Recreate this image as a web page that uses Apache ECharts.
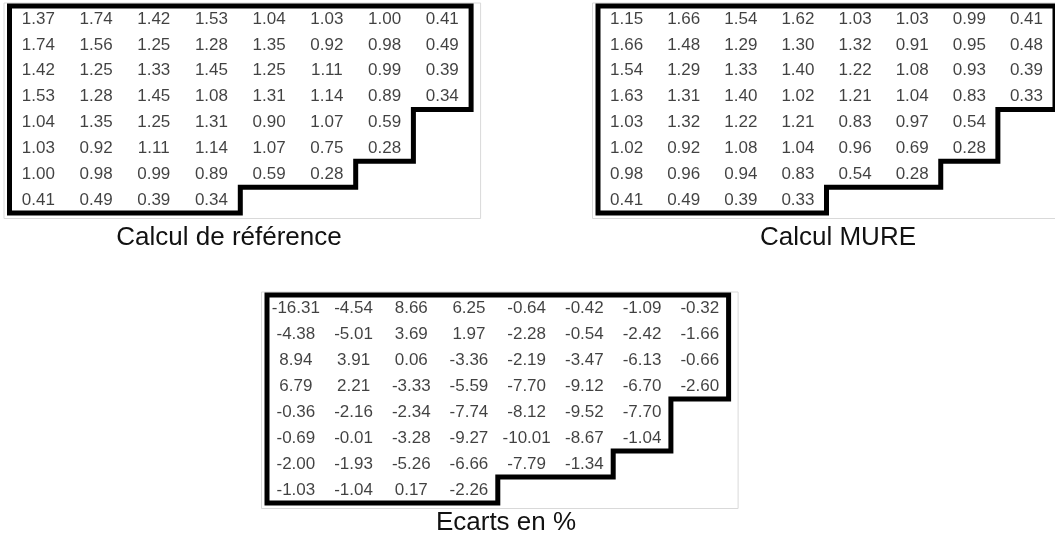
<!DOCTYPE html>
<html>
<head>
<meta charset="utf-8">
<script src="https://cdn.jsdelivr.net/npm/echarts@6/dist/echarts.min.js"></script>
<style>
html,body{margin:0;padding:0;background:#fff;}
#chart{width:1055px;height:547px;}
</style>
</head>
<body>
<div id="chart"></div>
<script>
// ---- data ----
const colCats = ['C1','C2','C3','C4','C5','C6','C7','C8'];
const rowCats = ['L1','L2','L3','L4','L5','L6','L7','L8'];

const refValues = [
  [1.37, 1.74, 1.42, 1.53, 1.04, 1.03, 1.00, 0.41],
  [1.74, 1.56, 1.25, 1.28, 1.35, 0.92, 0.98, 0.49],
  [1.42, 1.25, 1.33, 1.45, 1.25, 1.11, 0.99, 0.39],
  [1.53, 1.28, 1.45, 1.08, 1.31, 1.14, 0.89, 0.34],
  [1.04, 1.35, 1.25, 1.31, 0.90, 1.07, 0.59],
  [1.03, 0.92, 1.11, 1.14, 1.07, 0.75, 0.28],
  [1.00, 0.98, 0.99, 0.89, 0.59, 0.28],
  [0.41, 0.49, 0.39, 0.34]
];
const mureValues = [
  [1.15, 1.66, 1.54, 1.62, 1.03, 1.03, 0.99, 0.41],
  [1.66, 1.48, 1.29, 1.30, 1.32, 0.91, 0.95, 0.48],
  [1.54, 1.29, 1.33, 1.40, 1.22, 1.08, 0.93, 0.39],
  [1.63, 1.31, 1.40, 1.02, 1.21, 1.04, 0.83, 0.33],
  [1.03, 1.32, 1.22, 1.21, 0.83, 0.97, 0.54],
  [1.02, 0.92, 1.08, 1.04, 0.96, 0.69, 0.28],
  [0.98, 0.96, 0.94, 0.83, 0.54, 0.28],
  [0.41, 0.49, 0.39, 0.33]
];
const ecartValues = [
  [-16.31, -4.54, 8.66, 6.25, -0.64, -0.42, -1.09, -0.32],
  [-4.38, -5.01, 3.69, 1.97, -2.28, -0.54, -2.42, -1.66],
  [8.94, 3.91, 0.06, -3.36, -2.19, -3.47, -6.13, -0.66],
  [6.79, 2.21, -3.33, -5.59, -7.70, -9.12, -6.70, -2.60],
  [-0.36, -2.16, -2.34, -7.74, -8.12, -9.52, -7.70],
  [-0.69, -0.01, -3.28, -9.27, -10.01, -8.67, -1.04],
  [-2.00, -1.93, -5.26, -6.66, -7.79, -1.34],
  [-1.03, -1.04, 0.17, -2.26]
];
const tableTitles = ['Calcul de référence', 'Calcul MURE', 'Ecarts en %'];

// ---- helpers ----
const FONT = '"Liberation Sans", Arial, sans-serif';
function toPoints(m) {
  const out = [];
  m.forEach((row, r) => row.forEach((v, c) => out.push([c, r, v])));
  return out;
}
function borderRenderer(m) {
  return function (params, api) {
    const p0 = api.coord([0, 0]);
    const sz = api.size([1, 1]);
    const bw = sz[0], bh = sz[1];
    const left = p0[0] - bw / 2, top = p0[1] - bh / 2;
    const n = m.length;
    const pts = [[left, top]];
    for (let i = 0; i < n; i++) {
      const x = left + m[i].length * bw;
      pts.push([x, top + i * bh]);
      pts.push([x, top + (i + 1) * bh]);
    }
    pts.push([left, top + n * bh]);
    const maxW = m[0].length * bw;
    return {
      type: 'group',
      children: [
        {
          type: 'rect',
          shape: { x: left - 5.5, y: top - 3, width: maxW + 15, height: n * bh + 8.5 },
          style: { fill: 'none', stroke: '#d9d9d9', lineWidth: 1 }
        },
        {
          type: 'polygon',
          shape: { points: pts },
          style: { fill: 'none', stroke: '#000', lineWidth: 5, lineJoin: 'miter' }
        }
      ]
    };
  };
}

const grids = [
  { left: 9.5, top: 6, width: 461.6, height: 207 },
  { left: 598, top: 6, width: 461.6, height: 207 },
  { left: 267, top: 295, width: 461.6, height: 208 }
];
const matrices = [refValues, mureValues, ecartValues];

const xAxes = [], yAxes = [], series = [];
matrices.forEach((m, i) => {
  xAxes.push({ type: 'category', gridIndex: i, data: colCats, show: false });
  yAxes.push({ type: 'category', gridIndex: i, data: rowCats, inverse: true, show: false });
  series.push({
    type: 'custom',
    xAxisIndex: i, yAxisIndex: i,
    data: [[0, 0]],
    renderItem: borderRenderer(m),
    silent: true,
    z: 1
  });
  series.push({
    type: 'scatter',
    xAxisIndex: i, yAxisIndex: i,
    data: toPoints(m),
    symbolSize: 1,
    itemStyle: { color: 'rgba(0,0,0,0)' },
    silent: true,
    z: 2,
    label: {
      show: true,
      position: 'inside',
      formatter: p => p.value[2].toFixed(2),
      color: '#111',
      fontSize: 17,
      fontFamily: FONT
    }
  });
});

const titlePos = [[229, 238], [838, 238], [506, 523]];
const graphic = tableTitles.map((t, i) => ({
  type: 'text',
  x: titlePos[i][0],
  y: titlePos[i][1],
  style: {
    text: t,
    font: '26px ' + FONT,
    fill: '#111',
    align: 'center',
    verticalAlign: 'middle',
    textAlign: 'center',
    textVerticalAlign: 'middle'
  }
}));

const chart = echarts.init(document.getElementById('chart'), null, { renderer: 'canvas' });
chart.setOption({
  backgroundColor: '#fff',
  animation: false,
  grid: grids,
  xAxis: xAxes,
  yAxis: yAxes,
  series: series,
  graphic: graphic
});
</script>
</body>
</html>
